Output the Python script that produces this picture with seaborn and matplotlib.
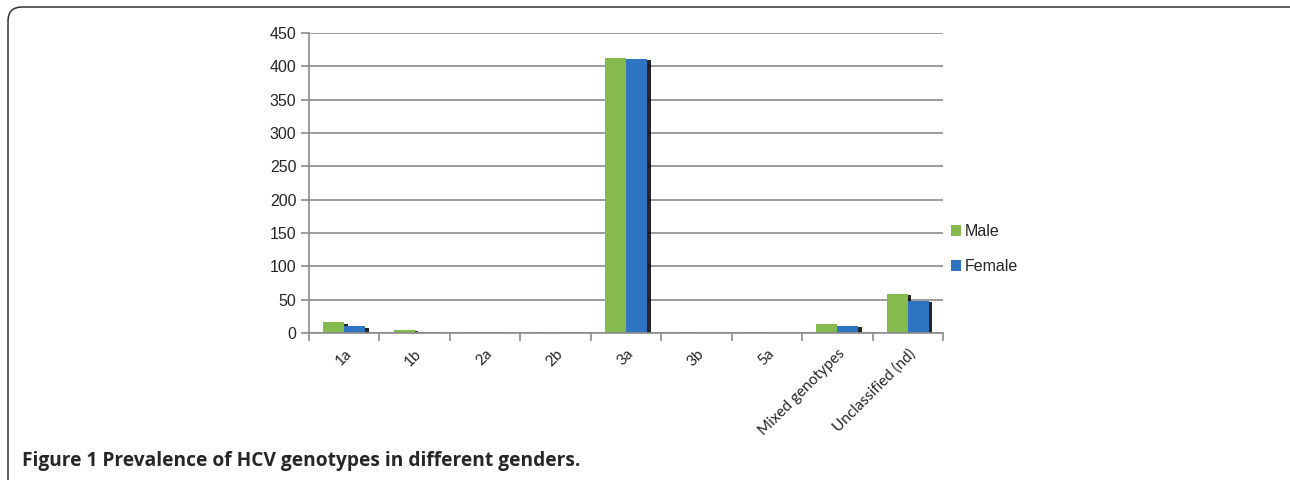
import numpy as np
import pandas as pd
import matplotlib
matplotlib.use("Agg")
import matplotlib.pyplot as plt
import matplotlib.patheffects as pe
from matplotlib.patches import FancyBboxPatch
import seaborn as sns

# values
genotypes = ['1a', '1b', '2a', '2b', '3a', '3b', '5a', 'Mixed genotypes', 'Unclassified (nd)']
male = [16, 5, 1, 1, 413, 1, 1, 13, 59]
female = [10, 2, 1, 1, 411, 0, 0, 11, 48]
genders = ['Male', 'Female']

df = pd.DataFrame({
    'Genotype': genotypes * 2,
    'Gender': ['Male'] * len(genotypes) + ['Female'] * len(genotypes),
    'Count': male + female,
})

sns.set_style('white')
plt.rcParams['font.family'] = ['Liberation Sans', 'DejaVu Sans']

fig = plt.figure(figsize=(12.9, 4.8), dpi=100)
ax = fig.add_axes([309 / 1290, 1 - 333 / 480, 634 / 1290, 300 / 480])

clr = ['#84BA4E', '#2F74C0']
sns.barplot(data=df, x='Genotype', y='Count', hue='Gender', order=genotypes,
            hue_order=genders, palette=clr, width=0.6, saturation=1,
            edgecolor='none', ax=ax)

handles, labels = ax.get_legend_handles_labels()
ax.legend(handles, labels, loc='center left', bbox_to_anchor=(0.99, 0.28), frameon=False,
          fontsize=11.5, handlelength=0.65, handleheight=0.65, handletextpad=0.2, labelspacing=1.25)

# shadow on the bars only, not on the legend keys
for bar in ax.patches:
    bar.set_path_effects([pe.SimplePatchShadow(offset=(2.5, -1), shadow_rgbFace='black', alpha=0.85),
                          pe.Normal()])

grid_c = '#8c8c8c'
ax.set_ylim(0, 450)
ax.set_xlim(-0.5, len(genotypes) - 0.5)
ax.set_yticks(np.arange(0, 451, 50))
ax.yaxis.grid(True, color=grid_c, linewidth=1.2)
ax.set_axisbelow(True)
for s in ['top', 'right']:
    ax.spines[s].set_visible(False)
for s in ['left', 'bottom']:
    ax.spines[s].set_color(grid_c)
    ax.spines[s].set_linewidth(1.2)
ax.tick_params(axis='y', length=6, color=grid_c, width=1.2, labelsize=11.5, pad=3, left=True)
ax.tick_params(axis='x', which='major', length=0, pad=10)
ax.set_xticks(np.arange(-0.5, len(genotypes), 1), minor=True)
ax.tick_params(axis='x', which='minor', length=6, color=grid_c, width=1.2, bottom=True)
ax.set_xticks(range(len(genotypes)))
ax.set_xticklabels(genotypes, rotation=45, ha='right', rotation_mode='anchor',
                   family=['Lato', 'DejaVu Sans'], fontsize=11)
ax.set_xlabel('')
ax.set_ylabel('')

# frame round the figure and caption
frame = FancyBboxPatch((8, -30), 1300, 480 - 7 + 30, boxstyle='round,pad=0,rounding_size=14',
                       transform=None, fill=False, edgecolor='#333333', linewidth=1.1)
fig.patches.append(frame)
fig.text(22 / 1290, 1 - 461 / 480, 'Figure 1 Prevalence of HCV genotypes in different genders.',
         family=['Open Sans', 'DejaVu Sans'], fontweight='bold', fontsize=13.8, va='center', ha='left')

plt.savefig('out.png', dpi=100)
